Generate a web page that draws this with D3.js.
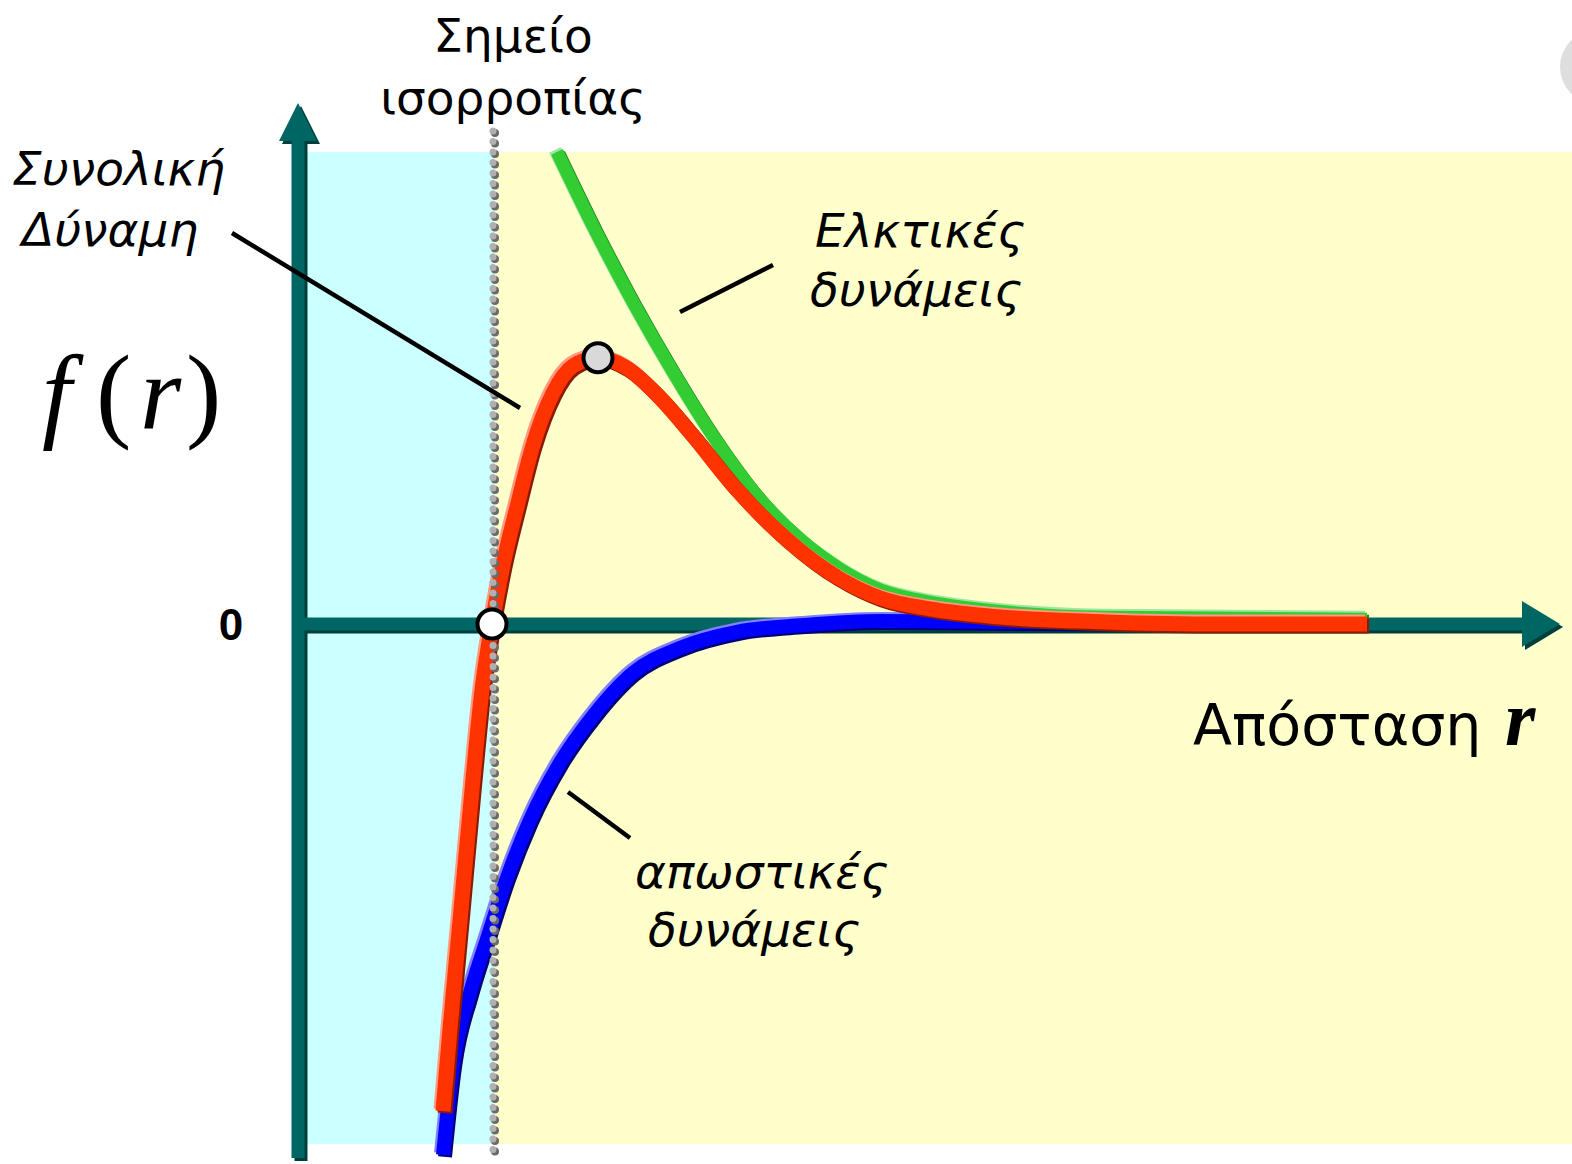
<!DOCTYPE html>
<html>
<head>
<meta charset="utf-8">
<script src="https://cdn.jsdelivr.net/npm/d3@7"></script>
<style>
  html, body { margin: 0; padding: 0; background: #fff; }
  svg { display: block; }
  text { font-family: "DejaVu Sans", Verdana, sans-serif; fill: #000; }
</style>
</head>
<body>
<div id="screen"></div>
<script>
var width = 1572;
var height = 1164;

// r (distance) and f (force), arbitrary units
var totalR = [1.16, 1.216, 1.296, 1.392, 1.472, 1.552, 1.64, 1.752, 1.88, 2.04, 2.2, 2.4, 2.632, 2.896, 3.16, 3.512, 3.912, 4.312, 4.656, 5.056, 5.544, 6.464, 7.384, 8.552];
var totalF = [-0.937, -0.779, -0.571, -0.319, -0.127, 0.0, 0.113, 0.225, 0.344, 0.444, 0.496, 0.512, 0.492, 0.435, 0.362, 0.258, 0.162, 0.09, 0.05, 0.029, 0.015, 0.004, 0.0, 0.0];

var attrR = [2.072, 2.376, 2.68, 3.0, 3.32, 3.696, 4.016, 4.336, 4.656, 5.056, 5.544, 6.464, 8.552];
var attrF = [0.908, 0.758, 0.619, 0.485, 0.362, 0.24, 0.163, 0.106, 0.066, 0.042, 0.026, 0.013, 0.009];

var repR = [1.16, 1.24, 1.376, 1.512, 1.672, 1.856, 2.096, 2.36, 2.68, 3.056, 3.512, 4.04, 4.656, 5.6, 8.552];
var repF = [-1.021, -0.848, -0.71, -0.606, -0.488, -0.377, -0.267, -0.177, -0.094, -0.046, -0.015, -0.002, 0.006, 0.004, 0.0];

var equilibriumR = 1.552;
var peakR = 2.4, peakF = 0.512;

var xScale = d3.scaleLinear().domain([0, 10]).range([298, 1548]);
var yScale = d3.scaleLinear().domain([-1, 1]).range([1144, 104]);

var svg = d3.select("#screen").append("svg").attr("width", width).attr("height", height);

var bandTop = 152, bandBottom = 1144;
var x0 = xScale(0), y0 = yScale(0), xe = xScale(equilibriumR);

// background bands
svg.append("rect").attr("x", x0 + 8).attr("y", bandTop).attr("width", xe - x0 - 6).attr("height", bandBottom - bandTop).attr("fill", "#ccffff");
svg.append("rect").attr("x", xe + 2).attr("y", bandTop).attr("width", width - xe).attr("height", bandBottom - bandTop).attr("fill", "#ffffcc");

// stray grey circle at top right
svg.append("circle").attr("cx", 1597).attr("cy", 67).attr("r", 37).attr("fill", "#dedede");

// axes
var teal = "#006663", tealDark = "#003e3c";
var axisG = svg.append("g");
function axisPaths(dx, dy, col){
  var g = axisG.append("g").attr("transform", "translate(" + dx + "," + dy + ")");
  g.append("line").attr("x1", x0).attr("x2", x0).attr("y1", 1158).attr("y2", 135)
    .attr("stroke", col).attr("stroke-width", 13);
  g.append("path").attr("d", "M" + (x0 - 19) + ",141 L" + x0 + ",103 L" + (x0 + 19) + ",141 Z").attr("fill", col);
  g.append("line").attr("x1", x0 + 6).attr("x2", 1528).attr("y1", y0).attr("y2", y0)
    .attr("stroke", col).attr("stroke-width", 13);
  g.append("path").attr("d", "M1522," + (y0 - 23) + " L1560," + y0 + " L1522," + (y0 + 23) + " Z").attr("fill", col);
}
axisPaths(3, 3, tealDark);
axisPaths(0, 0, teal);

// curves
var line = d3.line().x(function(d){ return xScale(d[0]); }).y(function(d){ return yScale(d[1]); }).curve(d3.curveMonotoneX);
var toPts = function(rs, fs){ return rs.map(function(r, i){ return [r, fs[i]]; }); };

var curves = [
  {pts: toPts(repR, repF), col: "#0000ff", dark: "#00007a", light: "#8080ff", w: 14},
  {pts: toPts(attrR, attrF), col: "#33cc33", dark: "#1f8a1f", light: "#a0e6a0", w: 13},
  {pts: toPts(totalR, totalF), col: "#ff3300", dark: "#8a1a00", light: "#ff9a80", w: 15}
];
curves.forEach(function(c){
  var g = svg.append("g");
  g.append("path").attr("d", line(c.pts)).attr("transform", "translate(-2,-2)")
    .attr("fill", "none").attr("stroke", c.light).attr("stroke-width", c.w);
  g.append("path").attr("d", line(c.pts)).attr("transform", "translate(2,2)")
    .attr("fill", "none").attr("stroke", c.dark).attr("stroke-width", c.w);
  g.append("path").attr("d", line(c.pts))
    .attr("fill", "none").attr("stroke", c.col).attr("stroke-width", c.w);
});

// dotted equilibrium line
svg.append("line").attr("x1", xe + 3).attr("x2", xe + 3).attr("y1", 133).attr("y2", 1153)
  .attr("stroke", "#6a6a6a").attr("stroke-width", 8).attr("stroke-linecap", "round").attr("stroke-dasharray", "0 10.5");
svg.append("line").attr("x1", xe + 1).attr("x2", xe + 1).attr("y1", 131).attr("y2", 1151)
  .attr("stroke", "#b0b0b0").attr("stroke-width", 7).attr("stroke-linecap", "round").attr("stroke-dasharray", "0 10.5");

// marked points
svg.append("circle").attr("cx", xScale(equilibriumR)).attr("cy", yScale(0)).attr("r", 14.5)
  .attr("fill", "#fff").attr("stroke", "#000").attr("stroke-width", 4);
svg.append("circle").attr("cx", xScale(peakR)).attr("cy", yScale(peakF)).attr("r", 14.5)
  .attr("fill", "#d9d9d9").attr("stroke", "#000").attr("stroke-width", 4);

// leader lines
var leaders = [[232, 233, 520, 408], [680, 312, 773, 265], [568, 792, 630, 838]];
leaders.forEach(function(l){
  svg.append("line").attr("x1", l[0]).attr("y1", l[1]).attr("x2", l[2]).attr("y2", l[3])
    .attr("stroke", "#000").attr("stroke-width", 4.5);
});

// labels
var addText = function(t, x, y, size, opts){
  opts = opts || {};
  return svg.append("text").attr("x", x).attr("y", y).text(t)
    .attr("font-size", size)
    .attr("text-anchor", opts.anchor || "start")
    .attr("font-style", opts.italic ? "italic" : "normal")
    .attr("font-weight", opts.bold ? "bold" : "normal");
};
addText("Σημείο", 513, 52, 47, {anchor: "middle"});
addText("ισορροπίας", 513, 114, 47, {anchor: "middle"});
addText("Συνολική", 12, 185, 47, {italic: true});
addText("Δύναμη", 22, 246, 47, {italic: true});
addText("Ελκτικές", 815, 247, 47, {italic: true});
addText("δυνάμεις", 810, 306, 47, {italic: true});
addText("απωστικές", 635, 888, 47, {italic: true});
addText("δυνάμεις", 648, 946, 47, {italic: true});
addText("0", 231, 640, 44, {anchor: "middle", bold: true}).style("font-family", "'Liberation Sans', Arial, sans-serif");
addText("Απόσταση", 1193, 745, 57);
addText("r", 1505, 745, 78, {italic: true, bold: true}).style("font-family", "'Liberation Serif', serif");

// f(r)
var fr = svg.append("text").attr("y", 428).attr("font-size", 106).style("font-family", "'Liberation Serif', serif");
fr.append("tspan").attr("x", 42).attr("font-style", "italic").text("f");
fr.append("tspan").attr("x", 96).text("(");
fr.append("tspan").attr("x", 140).attr("font-style", "italic").text("r");
fr.append("tspan").attr("x", 186).text(")");
</script>
</body>
</html>
